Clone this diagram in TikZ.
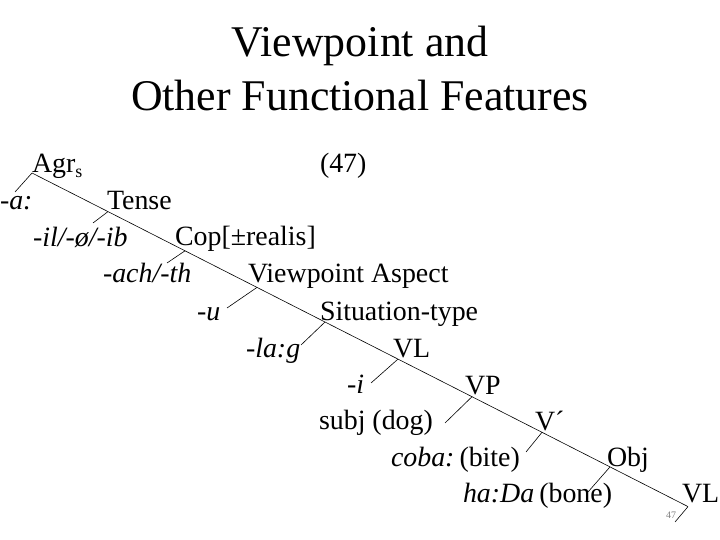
\documentclass[tikz,border=0pt]{standalone}
\usepackage{fontspec}
\setmainfont{Liberation Serif}
\begin{document}
\begin{tikzpicture}[x=1bp,y=-1bp,
  lbl/.style={anchor=base west,inner sep=0pt,outer sep=0pt,font=\fontsize{28}{34}\selectfont},
  ttl/.style={anchor=base,inner sep=0pt,font=\fontsize{44}{53}\selectfont},
  edge/.style={draw=black,line width=0.6bp}]
\useasboundingbox[fill=white] (0,0) rectangle (720,540);
% title
\node[ttl] (t1) at (360,57) {Viewpoint and};
\node[ttl] (t2) at (360,111) {Other Functional Features};
% labels
\node[lbl] (agr) at (32,173) {Agr\raisebox{-5pt}{\fontsize{18}{18}\selectfont s}};
\node[lbl] (num) at (320,173) {(47)};
\node[lbl] (a) at (0,210) {\itshape -a:};
\node[lbl] (tense) at (107,210) {Tense};
\node[lbl] (il) at (33,247) {\itshape -il/-ø/-ib};
\node[lbl] (cop) at (175,246) {Cop[±realis]};
\node[lbl] (ach) at (103,283) {\itshape -ach/-th};
\node[lbl] (vpa) at (248,283) {Viewpoint Aspect};
\node[lbl] (u) at (197,320) {\itshape -u};
\node[lbl] (sit) at (320,320) {Situation-type};
\node[lbl] (lag) at (246,357) {\itshape -la:g};
\node[lbl] (vl1) at (393,357) {VL};
\node[lbl] (i) at (347,393) {\itshape -i};
\node[lbl] (vp) at (465,394) {VP};
\node[lbl] (subj) at (319,429) {subj (dog)};
\node[lbl] (vbar) at (535,430) {V´};
\node[lbl] (coba) at (391,466) {{\itshape coba:}\hspace{5pt}(bite)};
\node[lbl] (obj) at (607,466) {Obj};
\node[lbl] (hada) at (463,502) {{\itshape ha:Da}\hspace{5pt}(bone)};
\node[lbl] (vl2) at (682,502) {VL};
\node[anchor=base west,inner sep=0pt,font=\fontsize{10}{12}\selectfont,text=black!50] (pg) at (666,518) {47};
% tree points
\coordinate (p0) at (32,173);
\coordinate (p1) at (108,211.6);
\coordinate (p2) at (185,250.8);
\coordinate (p3) at (257,287.4);
\coordinate (p4) at (325,322);
\coordinate (p5) at (398,359.1);
\coordinate (p6) at (472,396.7);
\coordinate (p7) at (542,432.3);
\coordinate (p8) at (610,466.9);
\coordinate (p9) at (688,506.6);
\coordinate (q0) at (15,192);
\coordinate (q1) at (93,223);
\coordinate (q2) at (167,263);
\coordinate (q3) at (227,308);
\coordinate (q4) at (301,345);
\coordinate (q5) at (371,383);
\coordinate (q6) at (445,423);
\coordinate (q7) at (526,452);
\coordinate (q8) at (588,492);
\coordinate (q9) at (675,522);
\draw[edge] (p0) -- (p1) -- (p2) -- (p3) -- (p4) -- (p5) -- (p6) -- (p7) -- (p8) -- (p9);
\foreach \k in {0,...,9} {\draw[edge] (p\k) -- (q\k);}
\end{tikzpicture}
\end{document}
